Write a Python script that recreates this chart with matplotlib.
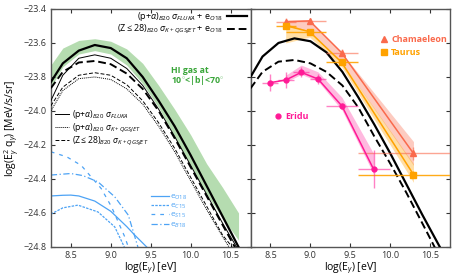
import numpy as np
import matplotlib
matplotlib.use('Agg')
import matplotlib.pyplot as plt
from matplotlib.lines import Line2D

plt.rcParams['font.family'] = ['Open Sans', 'DejaVu Sans']
plt.rcParams['mathtext.fontset'] = 'custom'
plt.rcParams['mathtext.rm'] = 'Open Sans'
plt.rcParams['mathtext.it'] = 'Open Sans:italic'
plt.rcParams['mathtext.bf'] = 'Open Sans:bold'

# ---- left panel: model curves ----
x_m = [8.25, 8.4, 8.6, 8.8, 9.0, 9.2, 9.4, 9.6, 9.8, 10.0, 10.2, 10.4, 10.6]
fluka_e = [-23.83, -23.72, -23.645, -23.612, -23.63, -23.69, -23.80, -23.94, -24.09, -24.26, -24.44, -24.62, -24.80]
fluka = [-23.94, -23.79, -23.69, -23.67, -23.69, -23.75, -23.85, -23.99, -24.15, -24.32, -24.49, -24.66, -24.82]
z28_e = [-23.866, -23.77, -23.715, -23.706, -23.725, -23.78, -23.87, -24.00, -24.16, -24.33, -24.50, -24.67, -24.84]
x_t = [8.25, 8.4, 8.6, 8.8, 9.0, 9.2, 9.4, 9.6, 9.8, 10.0, 10.2, 10.4, 10.52]
z28_k = [-23.97, -23.86, -23.79, -23.775, -23.79, -23.845, -23.94, -24.07, -24.22, -24.39, -24.56, -24.73, -24.80]
pa_k = [-24.00, -23.88, -23.81, -23.80, -23.815, -23.87, -23.96, -24.09, -24.24, -24.41, -24.58, -24.74, -24.83]

# HI gas band
hi_up = [-23.73, -23.63, -23.585, -23.575, -23.59, -23.635, -23.72, -23.85, -23.99, -24.14, -24.31, -24.45, -24.60]
hi_lo = [-23.86, -23.74, -23.665, -23.645, -23.665, -23.73, -23.84, -23.98, -24.15, -24.32, -24.49, -24.63, -24.76]

# electron components
eO18_x = [8.25, 8.4, 8.5, 8.6, 8.8, 9.0, 9.2, 9.3, 9.45]
eO18_y = [-24.50, -24.496, -24.495, -24.50, -24.53, -24.59, -24.68, -24.73, -24.80]
eC15_x = [8.25, 8.4, 8.59, 8.84, 9.05, 9.17]
eC15_y = [-24.607, -24.57, -24.554, -24.594, -24.682, -24.80]
eS15_x = [8.25, 8.45, 8.63, 8.88, 9.01, 9.175, 9.22]
eS15_y = [-24.24, -24.27, -24.32, -24.456, -24.564, -24.74, -24.80]
eB18_x = [8.25, 8.5, 8.65, 8.84, 9.05, 9.22, 9.34]
eB18_y = [-24.377, -24.368, -24.38, -24.417, -24.505, -24.613, -24.80]

# ---- right panel ----
x_r = [8.25, 8.4, 8.6, 8.8, 9.0, 9.2, 9.4, 9.6, 9.8, 10.0, 10.2, 10.4, 10.62]
fluka_e_r = [-23.80, -23.68, -23.60, -23.573, -23.59, -23.655, -23.77, -23.92, -24.08, -24.25, -24.43, -24.61, -24.80]
z28_e_r = [-23.867, -23.77, -23.71, -23.70, -23.72, -23.77, -23.85, -23.98, -24.15, -24.31, -24.48, -24.66, -24.86]

cham_x = [8.69, 8.99, 9.39, 10.29]
cham_y = [-23.475, -23.47, -23.657, -24.25]
cham_xerr = [[0.115, 0.29, 0.19, 0.69], [0.135, 0.21, 0.21, 0.71]]
cham_yerr = [0.02, 0.015, 0.02, 0.04]
cham_hi = [-23.475, -23.47, -23.657, -24.18]
cham_lo = [-23.50, -23.53, -23.71, -24.32]

tau_x = [8.69, 8.99, 9.39, 10.29]
tau_y = [-23.498, -23.534, -23.714, -24.374]
tau_xerr = [[0.115, 0.29, 0.19, 0.69], [0.135, 0.21, 0.21, 0.71]]
tau_yerr = [0.02, 0.012, 0.015, 0.02]
tau_hi = [-23.485, -23.53, -23.71, -24.31]
tau_lo = [-23.60, -23.565, -23.74, -24.42]

eri_x = [8.49, 8.69, 8.885, 9.095, 9.395, 9.79]
eri_y = [-23.834, -23.818, -23.773, -23.812, -23.971, -24.342]
eri_xerr = [0.1, 0.1, 0.1, 0.1, 0.2, 0.2]
eri_yerr = [0.05, 0.045, 0.03, 0.03, 0.02, 0.11]
eri_bx = [8.69, 8.885, 9.095, 9.395, 9.79]
eri_hi = [-23.79, -23.73, -23.77, -23.92, -24.25]
eri_lo = [-23.83, -23.785, -23.825, -23.995, -24.37]

blue = '#4da3f5'
green = '#3aa63a'
c_cham = '#fa6a4c'
c_tau = '#ffa200'
c_eri = '#ff1a96'

fig, (ax1, ax2) = plt.subplots(1, 2, figsize=(4.58, 2.8), dpi=100, sharey=True)
fig.subplots_adjust(left=0.111, right=0.983, top=0.968, bottom=0.118, wspace=0)

# left
ax1.fill_between(x_m, hi_lo, hi_up, color='#b5dcb0', lw=0, zorder=1)
l1, = ax1.plot(x_m, fluka_e, color='k', lw=1.6, zorder=3)
l2, = ax1.plot(x_m, z28_e, color='k', lw=1.4, ls=(0, (4, 2)), zorder=3)
t1, = ax1.plot(x_m, fluka, color='k', lw=0.7, zorder=3)
t2, = ax1.plot(x_t, pa_k, color='k', lw=0.7, ls=(0, (1, 1)), zorder=3)
t3, = ax1.plot(x_t, z28_k, color='k', lw=0.7, ls=(0, (4, 2)), zorder=3)

b1, = ax1.plot(eO18_x, eO18_y, color=blue, lw=0.9)
b2, = ax1.plot(eC15_x, eC15_y, color=blue, lw=0.9, ls=(0, (2, 1)))
b3, = ax1.plot(eS15_x, eS15_y, color=blue, lw=0.9, ls=(0, (3, 4)))
b4, = ax1.plot(eB18_x, eB18_y, color=blue, lw=0.9, ls=(0, (5, 2, 1, 2)))

leg1 = ax1.legend([l1, l2], [r'(p+$\alpha$)$_{B20}$ $\sigma_{FLUKA}$ + e$_{O18}$',
                             r'(Z$\leq$28)$_{B20}$ $\sigma_{K+QGSJET}$ + e$_{O18}$'],
                  loc='upper right', frameon=False, markerfirst=False, fontsize=6.5,
                  handlelength=2.2, handletextpad=0.4, labelspacing=0.0,
                  borderaxespad=0.0, bbox_to_anchor=(1.0, 1.01))
ax1.add_artist(leg1)
leg2 = ax1.legend([t1, t2, t3], [r'(p+$\alpha$)$_{B20}$ $\sigma_{FLUKA}$',
                                 r'(p+$\alpha$)$_{B20}$ $\sigma_{K+QGSJET}$',
                                 r'(Z$\leq$28)$_{B20}$ $\sigma_{K+QGSJET}$'],
                  loc='upper left', bbox_to_anchor=(0.0, 0.60), frameon=False,
                  fontsize=6.2, handlelength=1.6, handletextpad=0.4,
                  labelspacing=0.0, borderaxespad=0.1)
ax1.add_artist(leg2)
ax1.legend([b1, b2, b3, b4], [r'e$_{O18}$', r'e$_{C15}$', r'e$_{S15}$', r'e$_{B18}$'],
           loc='upper left', bbox_to_anchor=(0.48, 0.245), frameon=False,
           fontsize=6.0, handlelength=2.2, handletextpad=0.1, labelspacing=0.0,
           labelcolor=blue, borderaxespad=0.1)

ax1.text(0.6, 0.76, 'HI gas at\n10$^{\\circ}$<|b|<70$^{\\circ}$', transform=ax1.transAxes,
         color=green, fontsize=6.3, fontweight='bold', va='top', linespacing=0.9)

# right
ax2.fill_between(cham_x, cham_lo, cham_hi, color=c_cham, alpha=0.35, lw=0, zorder=1)
ax2.fill_between(tau_x, tau_lo, tau_hi, color=c_tau, alpha=0.35, lw=0, zorder=1)
ax2.fill_between(eri_bx, eri_lo, eri_hi, color=c_eri, alpha=0.3, lw=0, zorder=1)
ax2.plot(x_r, fluka_e_r, color='k', lw=1.6, zorder=3)
ax2.plot(x_r, z28_e_r, color='k', lw=1.4, ls=(0, (4, 2)), zorder=3)

ax2.plot(cham_x, cham_y, color=c_cham, lw=1.1, zorder=4)
ax2.errorbar(cham_x, cham_y, xerr=cham_xerr, yerr=cham_yerr, fmt='none',
             ecolor=c_cham, elinewidth=1, alpha=0.6, zorder=4)
ax2.plot(cham_x, cham_y, '^', color=c_cham, ms=4.5, zorder=5)
ax2.plot(tau_x, tau_y, color=c_tau, lw=1.1, zorder=4)
ax2.errorbar(tau_x, tau_y, xerr=tau_xerr, yerr=tau_yerr, fmt='none',
             ecolor=c_tau, elinewidth=1, alpha=0.9, zorder=4)
ax2.plot(tau_x, tau_y, 's', color=c_tau, ms=4, zorder=5)
ax2.plot(eri_x, eri_y, color=c_eri, lw=1.1, zorder=4)
ax2.errorbar(eri_x, eri_y, xerr=eri_xerr, yerr=eri_yerr, fmt='none',
             ecolor=c_eri, elinewidth=1, alpha=0.55, zorder=4)
ax2.plot(eri_x, eri_y, 'o', color=c_eri, ms=3.5, zorder=5)

h_cham = Line2D([], [], ls='none', marker='^', color=c_cham, ms=4.5)
h_tau = Line2D([], [], ls='none', marker='s', color=c_tau, ms=4)
h_eri = Line2D([], [], ls='none', marker='o', color=c_eri, ms=3.5)
lg = ax2.legend([h_cham, h_tau], ['Chamaeleon', 'Taurus'], loc='upper left',
                bbox_to_anchor=(0.61, 0.925), frameon=False,
                handlelength=0.8, handletextpad=0.4, labelspacing=0.5,
                labelcolor='linecolor', prop={'weight': 'bold', 'size': 6.5})
ax2.add_artist(lg)
ax2.legend([h_eri], ['Eridu'], loc='upper left', bbox_to_anchor=(0.08, 0.6),
           frameon=False, handlelength=0.8, handletextpad=0.4,
           labelcolor='linecolor', prop={'weight': 'bold', 'size': 6.5})

for ax in (ax1, ax2):
    ax.set_xlim(8.25, 10.75)
    ax.set_ylim(-24.8, -23.4)
    ax.set_xticks([8.5, 9.0, 9.5, 10.0, 10.5])
    ax.set_yticks(np.arange(-24.8, -23.39, 0.2))
    ax.tick_params(direction='in', top=True, right=True, length=3, width=0.8,
                   labelsize=6.5, colors='#333333', pad=3)
    ax.set_xlabel(r'log(E$_{\gamma}$) [eV]', fontsize=7.5, labelpad=0)
    for s in ax.spines.values():
        s.set_color('#555555')
        s.set_linewidth(1)
ax1.set_yticklabels([f'\u2212{abs(v):.1f}' for v in np.arange(-24.8, -23.39, 0.2)])
ax2.tick_params(labelleft=False)
ax1.set_ylabel(r'log(E$_{\gamma}^{2}$ q$_{\gamma}$) [MeV/s/sr]', fontsize=7.5, labelpad=2)

fig.savefig('out.png', dpi=100)
